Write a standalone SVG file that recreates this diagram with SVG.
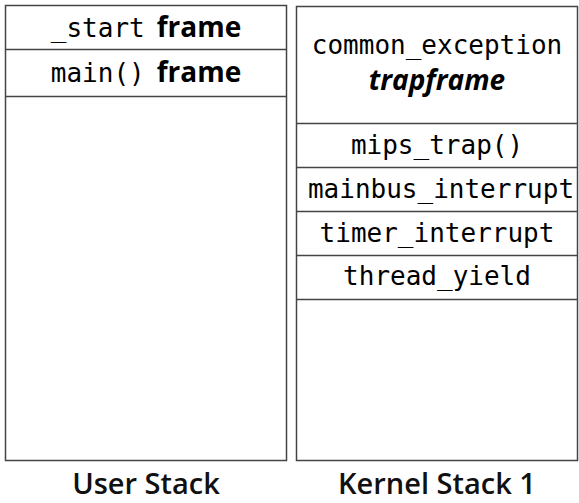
<svg xmlns="http://www.w3.org/2000/svg" width="579" height="503" viewBox="0 0 579 503">
<style>
.box{fill:#fff;stroke:#444;stroke-width:1.5}
.div{stroke:#444;stroke-width:1.5}
.mono{font-family:"DejaVu Sans Mono","Liberation Mono",monospace;font-size:26px;fill:#000;text-anchor:middle}
.b{font-family:"Open Sans","Noto Sans",sans-serif;font-weight:700;font-size:28px}
.bi{font-family:"Open Sans","Noto Sans",sans-serif;font-weight:700;font-style:italic;font-size:28px;fill:#000;text-anchor:middle}
.lbl{font-family:"Open Sans","Noto Sans",sans-serif;font-weight:600;font-size:29px;fill:#111;text-anchor:middle}
</style>
<rect width="579" height="503" fill="#fff"/>
<g id="user-stack">
<rect class="box" x="5.5" y="5.5" width="281" height="455"/>
<line class="div" x1="5.5" y1="49.5" x2="286.5" y2="49.5"/>
<line class="div" x1="5.5" y1="96.5" x2="286.5" y2="96.5"/>
</g>
<g id="start-frame"><text class="mono" x="146" y="37">_start<tspan dx="12" class="b">frame</tspan></text></g>
<g id="main-frame"><text class="mono" x="146" y="82">main()<tspan dx="12" class="b">frame</tspan></text></g>
<g id="kernel-stack">
<rect class="box" x="296.5" y="6.5" width="281" height="454"/>
<line class="div" x1="296.5" y1="123.5" x2="577.5" y2="123.5"/>
<line class="div" x1="296.5" y1="167.5" x2="577.5" y2="167.5"/>
<line class="div" x1="296.5" y1="211.5" x2="577.5" y2="211.5"/>
<line class="div" x1="296.5" y1="255.5" x2="577.5" y2="255.5"/>
<line class="div" x1="296.5" y1="299.5" x2="577.5" y2="299.5"/>
</g>
<g id="trapframe"><text class="mono" x="437" y="54">common_exception</text><text class="bi" x="437" y="90">trapframe</text></g>
<g id="mips-trap"><text class="mono" x="437" y="154">mips_trap()</text></g>
<g id="mainbus-interrupt"><text class="mono" x="441" y="198">mainbus_interrupt</text></g>
<g id="timer-interrupt"><text class="mono" x="437" y="242">timer_interrupt</text></g>
<g id="thread-yield"><text class="mono" x="437" y="285">thread_yield</text></g>
<g id="connectors"></g>
<text class="lbl" x="146" y="494">User Stack</text>
<text class="lbl" x="437" y="494">Kernel Stack 1</text>
</svg>
